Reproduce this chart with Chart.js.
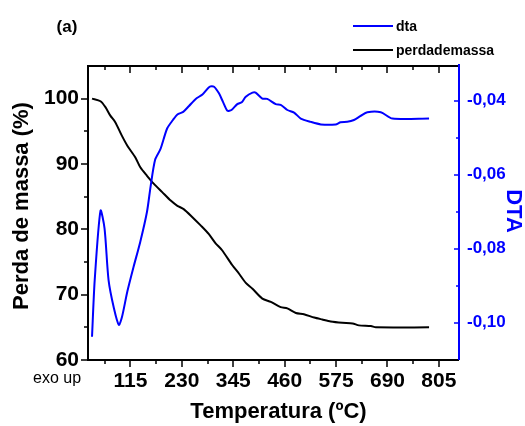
<!DOCTYPE html>
<html>
<head>
<meta charset="utf-8">
<script src="https://cdn.jsdelivr.net/npm/chart.js@4.4.1/dist/chart.umd.min.js"></script>
<style>
  html, body { margin: 0; padding: 0; background: #fff; }
  #wrap { width: 525px; height: 426px; }
</style>
</head>
<body>
<div id="wrap"><canvas id="c" width="525" height="426"></canvas></div>
<script>
// ---- Data ----
const massTemp = [29, 48, 59, 70, 81, 96, 108, 126, 137, 152, 167, 186, 205, 220, 234, 253, 272, 290, 305, 320, 343, 358, 373, 388, 410, 429, 451, 466, 485, 503, 526, 544, 563, 589, 612, 626, 653, 664, 783];
const massValues = [100.0, 99.6, 98.7, 97.4, 96.4, 94.3, 92.8, 91.0, 89.5, 88.2, 87.0, 85.7, 84.4, 83.6, 83.1, 81.9, 80.6, 79.3, 77.9, 76.8, 74.5, 73.2, 71.8, 70.9, 69.4, 68.9, 68.1, 67.9, 67.2, 67.0, 66.5, 66.2, 65.9, 65.7, 65.6, 65.3, 65.2, 65.0, 65.0];

const dtaTemp = [29, 35, 48, 57, 66, 78, 89, 96, 108, 122, 137, 152, 160, 170, 182, 197, 210, 220, 233, 246, 261, 276, 292, 302, 313, 322, 332, 341, 354, 364, 373, 388, 395, 410, 421, 440, 451, 466, 481, 496, 518, 541, 574, 585, 600, 615, 630, 645, 675, 701, 783];
const dtaValues = [-0.1038, -0.0885, -0.0697, -0.0745, -0.0885, -0.0961, -0.1006, -0.0985, -0.0916, -0.0849, -0.0781, -0.0700, -0.0632, -0.0560, -0.0531, -0.0475, -0.0452, -0.0437, -0.0430, -0.0414, -0.0395, -0.0383, -0.0362, -0.0362, -0.0380, -0.0403, -0.0427, -0.0425, -0.0409, -0.0404, -0.0389, -0.0378, -0.0378, -0.0394, -0.0395, -0.0409, -0.0411, -0.0425, -0.0432, -0.0448, -0.0457, -0.0464, -0.0464, -0.0458, -0.0457, -0.0452, -0.0441, -0.0431, -0.0431, -0.0448, -0.0448];

const seriesLabels = ['dta', 'perdademassa'];

// tick labels
const xTicks = [115, 230, 345, 460, 575, 690, 805];
const xMinor = [57.5, 172.5, 287.5, 402.5, 517.5, 632.5, 747.5];
const yTicks = [60, 70, 80, 90, 100];
const yMinor = [65, 75, 85, 95];
const y1Ticks = [-0.10, -0.08, -0.06, -0.04];
const y1Minor = [-0.09, -0.07, -0.05];

const FONT = '"Liberation Sans", Arial, sans-serif';
Chart.defaults.font.family = FONT;

const toPts = (xs, ys) => xs.map((x, i) => ({ x: x, y: ys[i] }));

const framePlugin = {
  id: 'frame',
  afterDraw(chart) {
    const ctx = chart.ctx;
    const a = chart.chartArea;
    const sx = chart.scales.x, sy = chart.scales.y, sy1 = chart.scales.y1;
    ctx.save();
    ctx.lineCap = 'butt';
    // black frame: left, bottom, top
    ctx.strokeStyle = '#000';
    ctx.lineWidth = 2;
    ctx.beginPath();
    ctx.moveTo(a.left, a.top); ctx.lineTo(a.left, a.bottom);
    ctx.moveTo(a.left - 1, a.bottom); ctx.lineTo(a.right, a.bottom);
    ctx.moveTo(a.left - 1, a.top); ctx.lineTo(a.right, a.top);
    ctx.stroke();
    // x ticks (bottom outward, top inward)
    ctx.lineWidth = 1.5;
    ctx.beginPath();
    xTicks.forEach(v => {
      const p = Math.round(sx.getPixelForValue(v));
      ctx.moveTo(p, a.bottom); ctx.lineTo(p, a.bottom + 7);
      ctx.moveTo(p, a.top); ctx.lineTo(p, a.top + 7);
    });
    xMinor.forEach(v => {
      const p = Math.round(sx.getPixelForValue(v));
      ctx.moveTo(p, a.bottom); ctx.lineTo(p, a.bottom + 4);
      ctx.moveTo(p, a.top); ctx.lineTo(p, a.top + 4);
    });
    // left ticks outward
    yTicks.forEach(v => {
      const p = Math.round(sy.getPixelForValue(v));
      ctx.moveTo(a.left, p); ctx.lineTo(a.left - 7, p);
    });
    yMinor.forEach(v => {
      const p = Math.round(sy.getPixelForValue(v));
      ctx.moveTo(a.left, p); ctx.lineTo(a.left - 4, p);
    });
    ctx.stroke();
    // right blue axis
    ctx.strokeStyle = '#0000ff';
    ctx.lineWidth = 2;
    ctx.beginPath();
    ctx.moveTo(a.right, a.top - 2); ctx.lineTo(a.right, a.bottom);
    ctx.stroke();
    ctx.lineWidth = 1.5;
    ctx.beginPath();
    y1Ticks.forEach(v => {
      const p = Math.round(sy1.getPixelForValue(v));
      ctx.moveTo(a.right, p); ctx.lineTo(a.right - 5, p);
    });
    y1Minor.forEach(v => {
      const p = Math.round(sy1.getPixelForValue(v));
      ctx.moveTo(a.right, p); ctx.lineTo(a.right - 3, p);
    });
    ctx.stroke();

    // axis titles
    ctx.fillStyle = '#000';
    ctx.font = 'bold 22px ' + FONT;
    ctx.textAlign = 'center';
    ctx.textBaseline = 'middle';
    ctx.fillText('Temperatura (ºC)', (a.left + a.right) / 2 + 5, 412);
    ctx.save();
    ctx.translate(22, (a.top + a.bottom) / 2 - 7);
    ctx.rotate(-Math.PI / 2);
    ctx.fillText('Perda de massa (%)', 0, 0);
    ctx.restore();
    ctx.save();
    ctx.fillStyle = '#0000ff';
    ctx.translate(513, (a.top + a.bottom) / 2 - 2);
    ctx.rotate(Math.PI / 2);
    ctx.fillText('DTA', 0, 0);
    ctx.restore();

    // panel label and note
    ctx.font = 'bold 17px ' + FONT;
    ctx.fillText('(a)', 67, 27);
    ctx.font = '16px ' + FONT;
    ctx.textAlign = 'left';
    ctx.fillText('exo up', 33, 379);

    // legend
    chart.data.datasets.forEach((ds, i) => {
      const y = 26 + 24 * i;
      ctx.strokeStyle = ds.borderColor;
      ctx.lineWidth = 2;
      ctx.beginPath();
      ctx.moveTo(353, y); ctx.lineTo(393, y);
      ctx.stroke();
      ctx.fillStyle = '#000';
      ctx.font = 'bold 14px ' + FONT;
      ctx.textAlign = 'left';
      ctx.textBaseline = 'middle';
      ctx.fillText(ds.label, 396, y + 1);
    });
    ctx.restore();
  }
};

new Chart(document.getElementById('c'), {
  type: 'line',
  data: {
    datasets: [
      {
        label: seriesLabels[0],
        data: toPts(dtaTemp, dtaValues),
        yAxisID: 'y1',
        borderColor: '#0000ff',
        borderWidth: 2,
        pointRadius: 0,
        tension: 0.25,
        fill: false
      },
      {
        label: seriesLabels[1],
        data: toPts(massTemp, massValues),
        yAxisID: 'y',
        borderColor: '#000000',
        borderWidth: 2,
        pointRadius: 0,
        tension: 0.25,
        fill: false
      }
    ]
  },
  options: {
    responsive: false,
    animation: false,
    devicePixelRatio: 1,
    layout: { padding: { top: 66, left: 0, right: 0, bottom: 0 } },
    plugins: { legend: { display: false }, tooltip: { enabled: false } },
    scales: {
      x: {
        type: 'linear',
        position: 'bottom',
        min: 20, max: 850,
        grid: { display: false, drawTicks: false },
        border: { display: false },
        afterBuildTicks: s => { s.ticks = xTicks.map(v => ({ value: v })); },
        afterFit: s => { s.height = 66; },
        ticks: {
          color: '#000', padding: 9, maxRotation: 0, autoSkip: false,
          font: { size: 21, weight: 'bold' }
        }
      },
      y: {
        type: 'linear',
        position: 'left',
        min: 60, max: 105,
        grid: { display: false, drawTicks: false },
        border: { display: false },
        afterBuildTicks: s => { s.ticks = yTicks.map(v => ({ value: v })); },
        afterFit: s => { s.width = 88; },
        ticks: {
          color: '#000', padding: 9, autoSkip: false,
          font: { size: 21, weight: 'bold' }
        }
      },
      y1: {
        type: 'linear',
        position: 'right',
        min: -0.1101, max: -0.0306,
        grid: { display: false, drawTicks: false },
        border: { display: false },
        afterBuildTicks: s => { s.ticks = y1Ticks.map(v => ({ value: v })); },
        afterFit: s => { s.width = 66; },
        ticks: {
          color: '#0000ff', padding: 8, autoSkip: false,
          font: { size: 17, weight: 'bold' },
          callback: v => v.toFixed(2).replace('.', ',')
        }
      }
    }
  },
  plugins: [framePlugin]
});
</script>
</body>
</html>
